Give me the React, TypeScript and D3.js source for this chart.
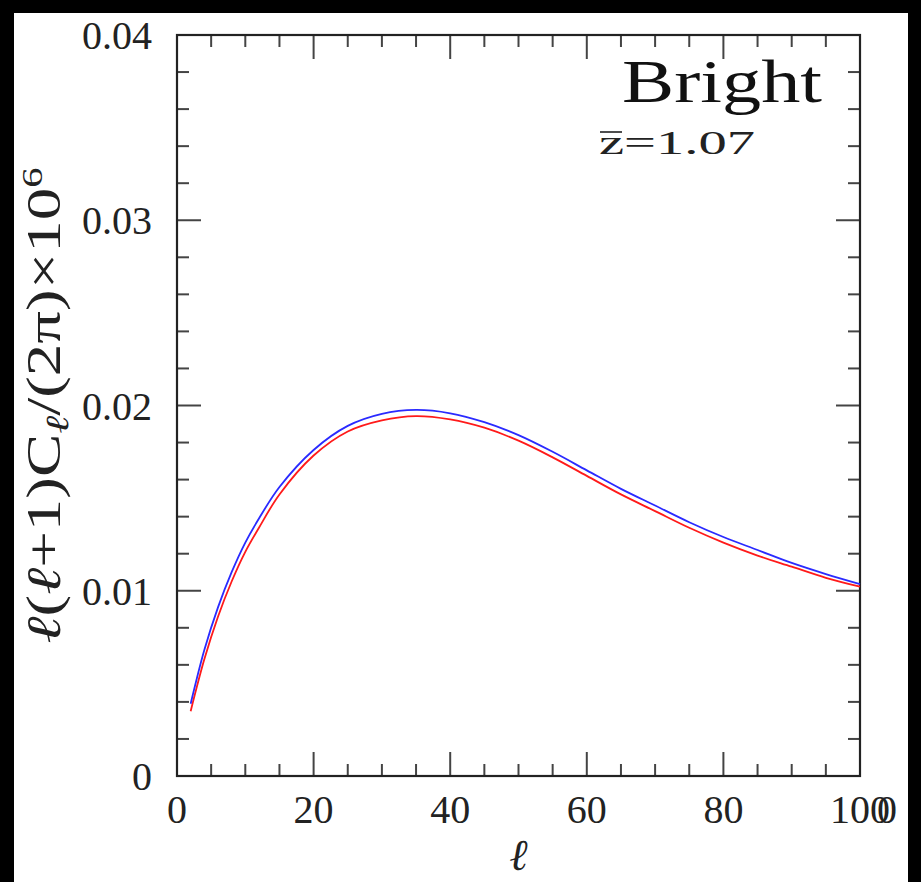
import React, { useRef, useEffect } from 'react';
import * as d3 from 'd3';

const ells = [2, 4, 6, 8, 10, 12, 15, 20, 25, 30, 35, 40, 45, 50, 55, 60, 65, 70, 75, 80, 85, 90, 95, 100];
// blue curve (upper)
const clBlue = [0.0039, 0.0068, 0.0091, 0.0110, 0.0126, 0.0139, 0.0156, 0.0176, 0.0189, 0.01955, 0.01976, 0.01958, 0.0191, 0.0184, 0.0175, 0.0165, 0.0155, 0.0146, 0.0137, 0.0129, 0.0122, 0.0115, 0.0109, 0.01036];
// red curve (lower)
const clRed = [0.0035, 0.0063, 0.0086, 0.0105, 0.0121, 0.0134, 0.0152, 0.0173, 0.0186, 0.0192, 0.01943, 0.01925, 0.0188, 0.0181, 0.0172, 0.0162, 0.0152, 0.0143, 0.0134, 0.0126, 0.0119, 0.0113, 0.0107, 0.01022];

const xTickValues = [0, 20, 40, 60, 80, 100];
const xTickLabels = ['0', '20', '40', '60', '80', '100'];
const yTickValues = [0, 0.01, 0.02, 0.03, 0.04];
const yTickLabels = ['0', '0.01', '0.02', '0.03', '0.04'];

const W = 921;
const H = 882;
const FONT = '"Liberation Serif", "DejaVu Serif", serif';

const App = () => {
  const svgRef = useRef<SVGSVGElement>(null);

  useEffect(() => {
    const svg = d3.select(svgRef.current);
    svg.selectAll('*').remove();

    const margin = { top: 35, right: 61, bottom: 106, left: 177 };
    const x = d3.scaleLinear().domain([0, 100]).range([margin.left, W - margin.right]);
    const y = d3.scaleLinear().domain([0, 0.04]).range([H - margin.bottom, margin.top]);

    svg.append('rect').attr('width', W).attr('height', H).attr('fill', '#fff');

    const [x0, x1] = x.range();
    const [y0, y1] = y.range();

    // ticks on all four sides
    const ticks = svg.append('g').attr('stroke', '#444').attr('stroke-width', 2);
    const xMinor = d3.range(5, 100, 5);
    xMinor.forEach((v) => {
      const len = v % 20 === 0 ? 24 : 12;
      ticks.append('line').attr('x1', x(v)).attr('x2', x(v)).attr('y1', y0).attr('y2', y0 - len);
      ticks.append('line').attr('x1', x(v)).attr('x2', x(v)).attr('y1', y1).attr('y2', y1 + len);
    });
    const yMinor = d3.range(1, 20).map((i) => i * 0.002);
    yMinor.forEach((v, i) => {
      const len = (i + 1) % 5 === 0 ? 24 : 12;
      ticks.append('line').attr('x1', x0).attr('x2', x0 + len).attr('y1', y(v)).attr('y2', y(v));
      ticks.append('line').attr('x1', x1).attr('x2', x1 - len).attr('y1', y(v)).attr('y2', y(v));
    });

    // frame
    svg.append('rect')
      .attr('x', x0).attr('y', y1)
      .attr('width', x1 - x0).attr('height', y0 - y1)
      .attr('fill', 'none').attr('stroke', '#222').attr('stroke-width', 2.2);

    // tick labels
    svg.append('g').selectAll('text')
      .data(xTickValues)
      .enter().append('text')
        .attr('x', (d) => x(d))
        .attr('y', y0 + 47)
        .attr('text-anchor', 'middle')
        .attr('font-family', FONT)
        .attr('font-size', 40)
        .attr('fill', '#222')
        .text((d, i) => xTickLabels[i]);

    // the stray overlapping zero after "100"
    svg.append('text')
      .attr('x', x(100) + 17).attr('y', y0 + 47)
      .attr('font-family', FONT).attr('font-size', 40).attr('fill', '#222')
      .text('0');

    svg.append('g').selectAll('text')
      .data(yTickValues)
      .enter().append('text')
        .attr('x', x0 - 25)
        .attr('y', (d) => y(d) + 14)
        .attr('text-anchor', 'end')
        .attr('font-family', FONT)
        .attr('font-size', 40)
        .attr('fill', '#222')
        .text((d, i) => yTickLabels[i]);

    // curves
    const line = d3.line<number>()
      .x((d, i) => x(ells[i]))
      .y((d) => y(d))
      .curve(d3.curveCatmullRom.alpha(0.5));

    svg.append('path').datum(clRed)
      .attr('d', line).attr('fill', 'none').attr('stroke', '#ff1a1a').attr('stroke-width', 1.8);
    svg.append('path').datum(clBlue)
      .attr('d', line).attr('fill', 'none').attr('stroke', '#2a2aff').attr('stroke-width', 1.8);

    // axis labels
    svg.append('text')
      .attr('x', (x0 + x1) / 2).attr('y', 870)
      .attr('text-anchor', 'middle')
      .attr('font-family', FONT).attr('font-style', 'italic').attr('font-size', 44)
      .attr('fill', '#222')
      .text('ℓ');

    const yl = svg.append('text')
      .attr('transform', `translate(60,${(y0 + y1) / 2}) rotate(-90)`)
      .attr('text-anchor', 'middle')
      .attr('font-family', FONT).attr('font-size', 48).attr('fill', '#222')
      .attr('textLength', 476).attr('lengthAdjust', 'spacingAndGlyphs');
    yl.append('tspan').attr('font-style', 'italic').text('ℓ');
    yl.append('tspan').text('(');
    yl.append('tspan').attr('font-style', 'italic').text('ℓ');
    yl.append('tspan').text('+1)C');
    yl.append('tspan').attr('font-style', 'italic').attr('font-size', 32).attr('dy', 8).text('ℓ');
    yl.append('tspan').attr('dy', -8).text('/(2π)×10');
    yl.append('tspan').attr('font-size', 30).attr('dy', -18).text('6');

    // annotation
    svg.append('text')
      .attr('x', 622).attr('y', 102)
      .attr('font-family', FONT).attr('font-size', 62).attr('fill', '#111')
      .attr('textLength', 200).attr('lengthAdjust', 'spacingAndGlyphs')
      .text('Bright');
    svg.append('text')
      .attr('x', 599).attr('y', 154)
      .attr('font-family', FONT).attr('font-size', 34).attr('fill', '#222')
      .attr('textLength', 156).attr('lengthAdjust', 'spacingAndGlyphs')
      .text('z=1.07');
    svg.append('line')
      .attr('x1', 600).attr('x2', 622).attr('y1', 132).attr('y2', 132)
      .attr('stroke', '#222').attr('stroke-width', 1.6);

    // black borders of the scan
    svg.append('rect').attr('x', 0).attr('y', 0).attr('width', W).attr('height', 13).attr('fill', '#000');
    svg.append('rect').attr('x', 0).attr('y', 0).attr('width', 14).attr('height', H).attr('fill', '#000');
    svg.append('rect').attr('x', 908).attr('y', 0).attr('width', W - 908).attr('height', H).attr('fill', '#000');
  }, []);

  return (
    <svg ref={svgRef} width={W} height={H} style={{ position: 'absolute', left: 0, top: 0 }}></svg>
  );
};

export default App;
